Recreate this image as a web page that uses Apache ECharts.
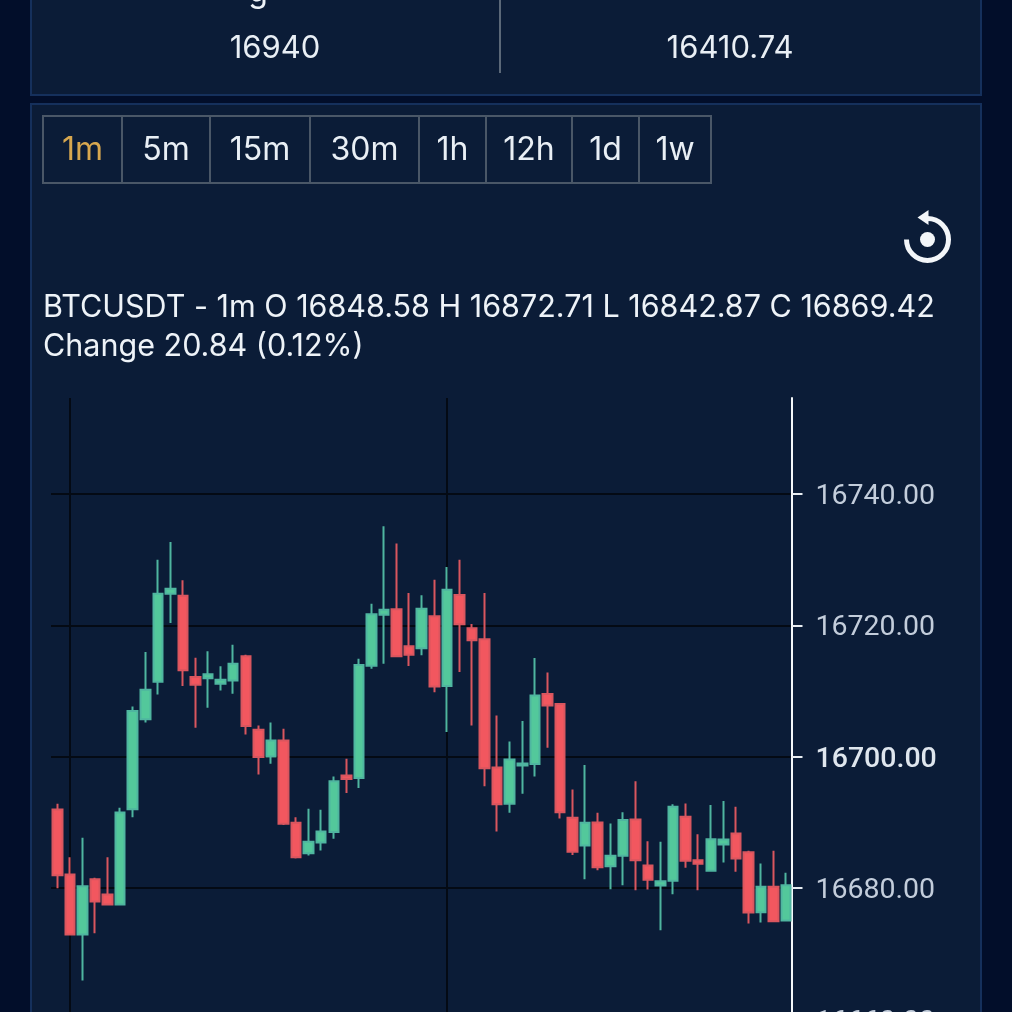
<!DOCTYPE html>
<html>
<head>
<meta charset="utf-8">
<title>BTCUSDT</title>
<style>html,body{margin:0;padding:0;background:#020e2a;overflow:hidden}#c{width:1012px;height:1012px}</style>
<script src="https://cdn.jsdelivr.net/npm/echarts@6/dist/echarts.min.js"></script>
</head>
<body>
<div id="c"></div>
<script>
const opens=[16691.98,16682.08,16672.94,16681.37,16679.04,16677.51,16692.03,16705.69,16711.42,16724.82,16724.52,16712.13,16711.93,16711.12,16711.62,16715.28,16704.11,16700.05,16702.49,16689.95,16685.33,16686.95,16688.53,16697.16,16696.75,16713.86,16721.62,16722.44,16716.8,16716.5,16721.37,16710.76,16724.62,16719.54,16717.87,16698.38,16692.84,16698.68,16698.88,16709.54,16708.02,16690.71,16686.5,16690,16683.35,16684.92,16690.46,16683.45,16680.41,16681.12,16690.86,16684.26,16682.64,16686.65,16688.32,16685.48,16676.34,16680.2,16675.08];
const closes=[16681.98,16672.94,16680.3,16677.97,16677.51,16691.52,16706.95,16710.2,16724.82,16725.58,16713.15,16710.96,16712.54,16711.73,16714.16,16704.67,16699.95,16702.49,16689.8,16684.72,16687.06,16688.63,16696.29,16696.6,16713.96,16721.68,16722.39,16715.28,16715.53,16722.54,16710.71,16725.43,16720.15,16717.72,16698.27,16692.79,16699.59,16698.98,16709.34,16707.82,16691.57,16685.53,16689.95,16683.2,16684.92,16690.36,16684.26,16681.27,16681.07,16692.39,16684.16,16683.71,16687.46,16687.41,16684.52,16676.29,16680.2,16674.97,16680.46];
const lows=[16680,16672.8,16665.94,16673.15,16677.36,16677.4,16690.81,16705.23,16709.49,16720.36,16710.76,16704.42,16707.46,16710.1,16709.59,16703.4,16697.31,16698.93,16689.6,16684.52,16684.97,16685.74,16687.51,16694.47,16695.23,16713.4,16714.16,16715.18,16713.81,16715.43,16709.8,16703.76,16712.89,16704.77,16695.53,16688.63,16691.47,16694.37,16697,16701.37,16690.61,16685.03,16681.37,16682.74,16679.85,16680.46,16679.7,16679.8,16673.6,16679.09,16683.1,16679.7,16682.49,16683.91,16682.49,16674.62,16674.77,16674.82,16674.97];
const highs=[16692.84,16684.72,16687.66,16681.57,16684.72,16692.23,16707.66,16715.94,16730,16732.69,16726.85,16715.08,16716.04,16713.76,16717.06,16715.53,16704.77,16705.23,16704.26,16690.81,16692.08,16691.93,16697.01,16699.7,16714.92,16723.3,16735.08,16732.44,16724.92,16724.57,16726.95,16728.88,16730,16720.2,16724.92,16706.29,16702.34,16705.43,16715.03,16712.84,16708.1,16695.03,16698.73,16691.47,16689.85,16691.57,16696.29,16687.16,16687.06,16692.79,16692.89,16688.22,16692.64,16693.25,16692.39,16685.69,16683.76,16685.69,16682.34];
const categories=opens.map((_,i)=>String(i));
const priceTicks=[16660,16680,16700,16720,16740];
const verticalLineCategories=[1,31];
const buttonLabels=['1m','5m','15m','30m','1h','12h','1d','1w'];
const buttonEdges=[43,122,210,310,419,486,572,639,711];
const infoLine1='BTCUSDT - 1m O 16848.58 H 16872.71 L 16842.87 C 16869.42';
const infoLine2='Change 20.84 (0.12%)';
const statLeft='16940', statRight='16410.74';

const UI='Inter, sans-serif';
const graphic=[];
function rect(x,y,w,h,fill,stroke,lw,z){graphic.push({type:'rect',silent:true,z:z||0,shape:{x,y,width:w,height:h},style:{fill:fill,stroke:stroke,lineWidth:lw||0}});}
function text(t,x,y,size,fill,align,weight){graphic.push({type:'text',silent:true,z:1,style:{text:t,x,y,fill,font:(weight||400)+' '+size+'px '+UI,textAlign:align||'center',textVerticalAlign:'middle'}});}
rect(31,-10,950,105,'#0b1c37','#15305c',2);
rect(31,104,950,1000,'#0b1c37','#15305c',2);
graphic.push({type:'line',silent:true,z:1,shape:{x1:500,y1:0,x2:500,y2:73},style:{stroke:'#5b6878',lineWidth:2}});
text('g',258,-8,32,'#eef3f8');
text(statLeft,275,49,31,'#e9eff5');
text(statRight,730,49,31,'#e9eff5');
buttonLabels.forEach((b,i)=>{
  const x0=buttonEdges[i],x1=buttonEdges[i+1];
  rect(x0,116,x1-x0,67,'none','#4a5767',2,1);
  text(b,(x0+x1)/2,150,32,i===0?'#d7a74f':'#e9eff5');
});
graphic.push({type:'arc',silent:true,z:1,shape:{cx:927.5,cy:239.5,r:21,startAngle:-Math.PI/2,endAngle:Math.PI,clockwise:true},style:{fill:'none',stroke:'#f3f6f9',lineWidth:5}});
graphic.push({type:'polygon',silent:true,z:1,shape:{points:[[917.5,217.5],[928.5,210],[928.5,225]]},style:{fill:'#f3f6f9'}});
graphic.push({type:'circle',silent:true,z:1,shape:{cx:927.5,cy:239.5,r:7.5},style:{fill:'#f3f6f9'}});
text(infoLine1,43,308,30.5,'#eef3f8','left');
text(infoLine2,43,347,30.5,'#eef3f8','left');

const chart=echarts.init(document.getElementById('c'),null,{renderer:'canvas'});
chart.setOption({
  animation:false,
  backgroundColor:'#020e2a',
  graphic:{elements:graphic},
  grid:{left:51,top:398,width:741.5,height:753,containLabel:false,outerBoundsMode:'none'},
  xAxis:{type:'category',data:categories,boundaryGap:true,
    axisLine:{show:false},axisTick:{show:false},axisLabel:{show:false},
    splitLine:{show:true,alignWithLabel:true,interval:(i)=>verticalLineCategories.includes(i),lineStyle:{color:'#040a14',width:2}}},
  yAxis:{type:'value',position:'right',offset:-1,min:16640,max:16754.6,interval:20,scale:true,
    axisLine:{show:true,lineStyle:{color:'#f4f7fa',width:2}},
    axisTick:{show:true,length:11,customValues:priceTicks,lineStyle:{color:'#e8edf2',width:2}},
    axisLabel:{margin:24,customValues:priceTicks,
      formatter:v=>(v===16700?'{b|':'{a|')+v.toFixed(2)+'}',
      rich:{
        a:{fontFamily:'Roboto',fontSize:28.5,color:'#c3cddb',padding:[6,0,0,0]},
        b:{fontFamily:'Roboto',fontSize:28.5,fontWeight:500,color:'#dfe6ee',padding:[6,0,0,0]}
      }},
    splitLine:{show:true,showMaxLine:true,showMinLine:false,lineStyle:{color:'#040a14',width:2}}},
  series:[{type:'candlestick',barWidth:10,
    data:opens.map((o,i)=>[o,closes[i],lows[i],highs[i]]),
    itemStyle:{color:'#53c89b',color0:'#f2575f',borderColor:'#4fb5a0',borderColor0:'#d9565f',borderWidth:2}}]
});
</script>
</body>
</html>
